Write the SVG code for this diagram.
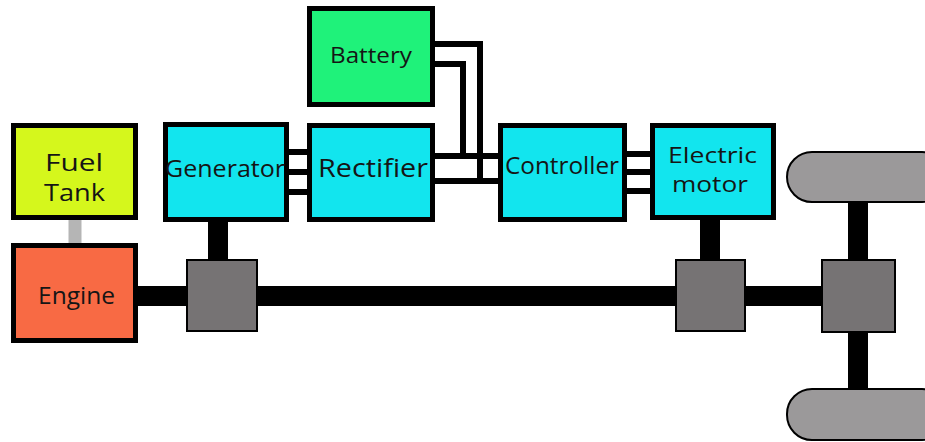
<svg xmlns="http://www.w3.org/2000/svg" width="925" height="442" viewBox="0 0 925 442">
<style>
.box{stroke:#000;stroke-width:5}
.gray{fill:#767374;stroke:#000;stroke-width:2}
.wheel{fill:#9b999a;stroke:#000;stroke-width:2}
.wire{fill:none;stroke:#000;stroke-width:6}
.shaft{fill:none;stroke:#000;stroke-width:20}
.lbl{font-family:"Open Sans",Lato,sans-serif;fill:#151515}
</style>
<rect width="925" height="442" fill="#fff"/>
<g id="connectors">
<line x1="75" y1="218" x2="75" y2="245" stroke="#b5b5b5" stroke-width="13"/>
<line class="shaft" x1="136" y1="296" x2="823" y2="296"/>
<line class="shaft" x1="218" y1="220" x2="218" y2="261"/>
<line class="shaft" x1="710" y1="218" x2="710" y2="261"/>
<line class="shaft" x1="858" y1="200" x2="858" y2="391"/>
<line class="wire" x1="287" y1="152" x2="310" y2="152"/>
<line class="wire" x1="287" y1="172" x2="310" y2="172"/>
<line class="wire" x1="287" y1="192" x2="310" y2="192"/>
<line class="wire" x1="625" y1="154" x2="653" y2="154"/>
<line class="wire" x1="625" y1="172" x2="653" y2="172"/>
<line class="wire" x1="625" y1="191" x2="653" y2="191"/>
<line class="wire" x1="433" y1="156" x2="501" y2="156"/>
<line class="wire" x1="433" y1="181" x2="501" y2="181"/>
<polyline class="wire" points="433,44 480,44 480,181"/>
<polyline class="wire" points="433,64 463,64 463,156"/>
</g>
<g id="fuel-tank"><rect class="box" x="13.5" y="125.5" width="122" height="92" fill="#d5f71c"/><text class="lbl" x="45" y="171" font-size="23" textLength="58" lengthAdjust="spacingAndGlyphs">Fuel</text><text class="lbl" x="44" y="201" font-size="23" textLength="61" lengthAdjust="spacingAndGlyphs">Tank</text></g>
<g id="engine"><rect class="box" x="13.5" y="245.5" width="122" height="95" fill="#f86a44"/><text class="lbl" x="38" y="304" font-size="23" textLength="77" lengthAdjust="spacingAndGlyphs">Engine</text></g>
<g id="generator"><rect class="box" x="165.5" y="124.5" width="121" height="95" fill="#12e5ee"/><text class="lbl" x="165" y="177" font-size="23" textLength="120" lengthAdjust="spacingAndGlyphs">Generator</text></g>
<g id="rectifier"><rect class="box" x="309.5" y="125.5" width="123" height="94" fill="#12e5ee"/><text class="lbl" x="318" y="177" font-size="26" textLength="110" lengthAdjust="spacingAndGlyphs">Rectifier</text></g>
<g id="battery"><rect class="box" x="309.5" y="8.5" width="123" height="96" fill="#1ff27a"/><text class="lbl" x="330" y="63" font-size="22" textLength="82" lengthAdjust="spacingAndGlyphs">Battery</text></g>
<g id="controller"><rect class="box" x="500.5" y="125.5" width="124" height="94" fill="#12e5ee"/><text class="lbl" x="505" y="174" font-size="24" textLength="114" lengthAdjust="spacingAndGlyphs">Controller</text></g>
<g id="electric-motor"><rect class="box" x="652.5" y="125.5" width="121" height="92" fill="#12e5ee"/><text class="lbl" x="668" y="163" font-size="21" textLength="89" lengthAdjust="spacingAndGlyphs">Electric</text><text class="lbl" x="672" y="192" font-size="21" textLength="76" lengthAdjust="spacingAndGlyphs">motor</text></g>
<g id="gear1"><rect class="gray" x="187" y="260" width="70" height="71"/></g>
<g id="gear2"><rect class="gray" x="676" y="260" width="69" height="71"/></g>
<g id="differential"><rect class="gray" x="822" y="260" width="73" height="72"/></g>
<g id="wheel-top"><rect class="wheel" x="787" y="152" width="160" height="50" rx="25" ry="25"/></g>
<g id="wheel-bottom"><rect class="wheel" x="787" y="389" width="160" height="51" rx="25" ry="25"/></g>
</svg>
